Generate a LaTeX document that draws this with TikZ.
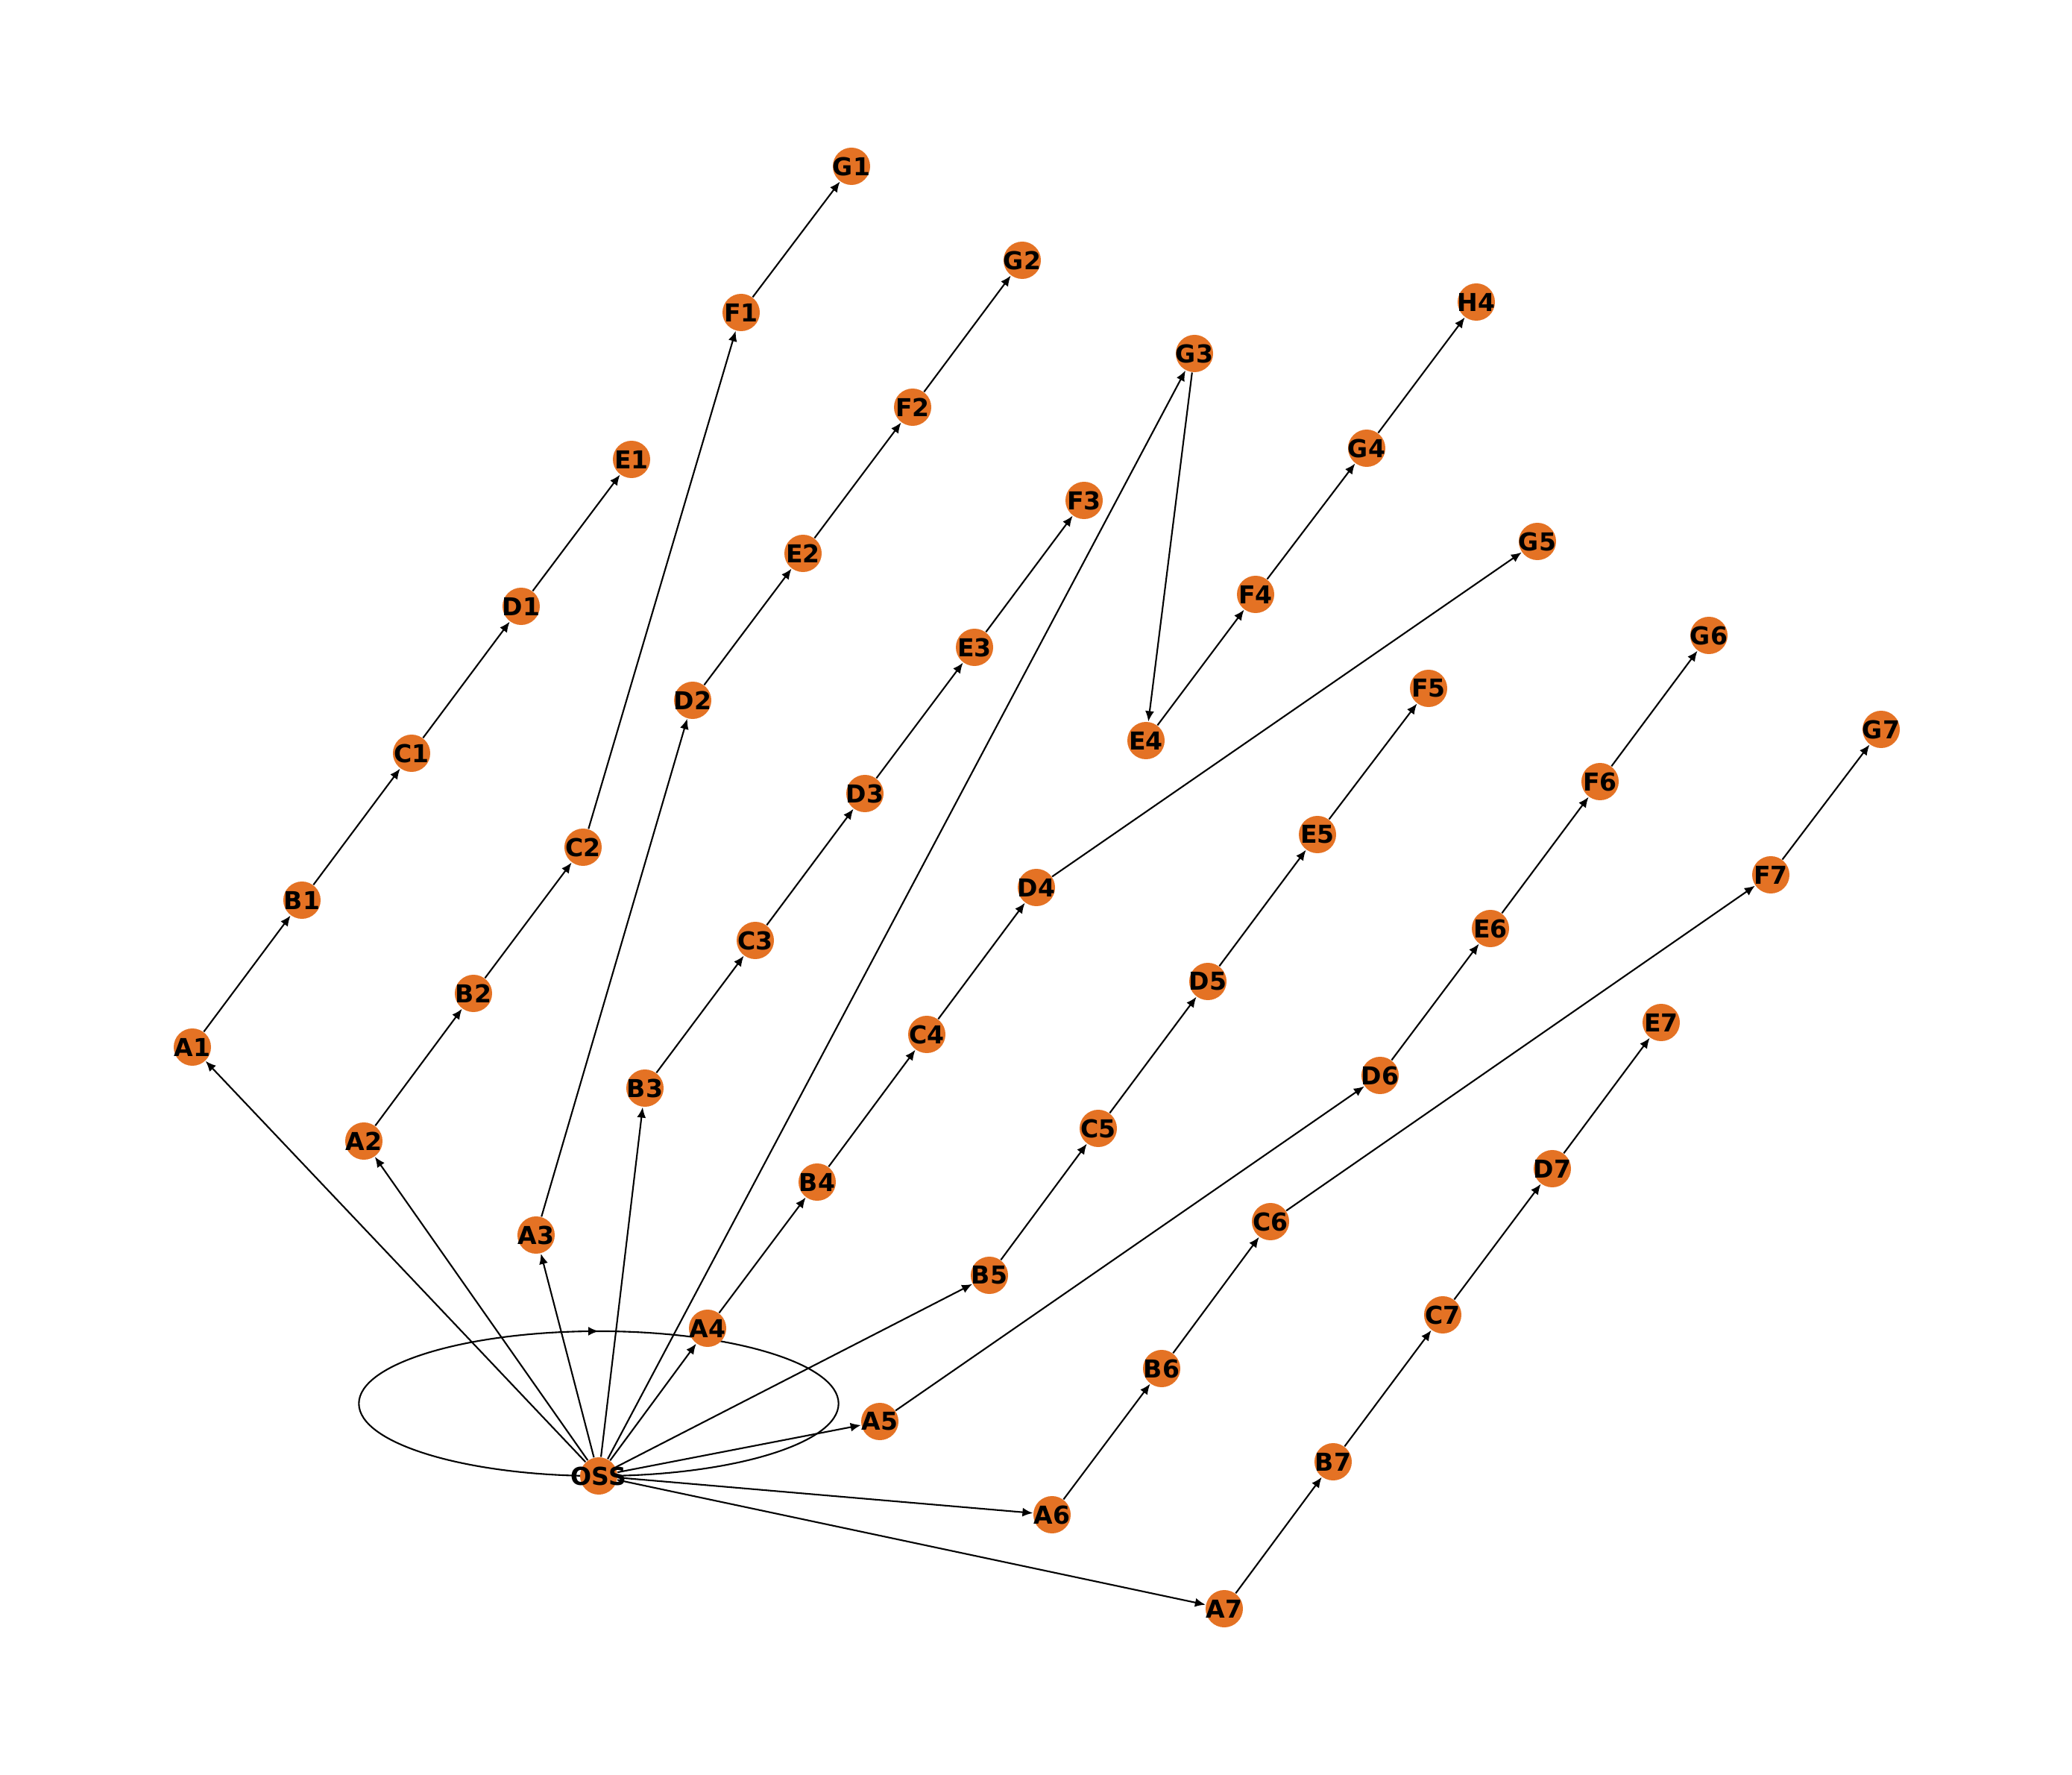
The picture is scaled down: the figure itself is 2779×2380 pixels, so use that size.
\documentclass[tikz,border=0pt]{standalone}
\usepackage{fontspec}
\setmainfont{DejaVu Sans}
\usetikzlibrary{arrows.meta,decorations.markings,backgrounds}
\definecolor{nodeorange}{RGB}{228,114,36}
\tikzset{
  vtx/.style={circle,fill=nodeorange,draw=none,minimum size=0.5cm,inner sep=0pt},
  lab/.style={font=\fontsize{9.4}{11}\selectfont\bfseries,text=black,inner sep=0pt},
  edge/.style={line width=0.6pt,draw=black,-{Latex[length=0.14cm,width=0.12cm]}},
}
\newcommand{\vx}[3]{\node[vtx,label={[lab]center:#1}] (#1) at (#2,#3) {};}
\begin{document}
\begin{tikzpicture}[x=0.01cm,y=-0.01cm]
\useasboundingbox (0,0) rectangle (2779,2380);
\vx{OSS}{803}{1979}
\vx{A1}{258}{1404}\vx{B1}{405}{1207}\vx{C1}{552}{1010}\vx{D1}{699}{813}\vx{E1}{847}{616}
\vx{A2}{488}{1530}\vx{B2}{635}{1332}\vx{C2}{782}{1136}\vx{F1}{994}{419}\vx{G1}{1142}{223}
\vx{A3}{719}{1656}\vx{D2}{929}{939}\vx{E2}{1077}{742}\vx{F2}{1224}{546}\vx{G2}{1371}{349}
\vx{B3}{865}{1459}\vx{C3}{1013}{1261}\vx{D3}{1160}{1064}\vx{E3}{1307}{868}\vx{F3}{1454}{671}
\vx{A4}{949}{1781}\vx{B4}{1096}{1585}\vx{C4}{1243}{1387}\vx{D4}{1390}{1190}\vx{G5}{2062}{726}
\vx{G3}{1602}{474}\vx{E4}{1537}{993}\vx{F4}{1684}{797}\vx{G4}{1833}{601}\vx{H4}{1980}{405}
\vx{B5}{1327}{1710}\vx{C5}{1473}{1513}\vx{D5}{1620}{1316}\vx{E5}{1767}{1119}\vx{F5}{1916}{923}
\vx{A5}{1180}{1906}\vx{D6}{1851}{1442}\vx{E6}{1999}{1245}\vx{F6}{2146}{1048}\vx{G6}{2292}{852}
\vx{A6}{1411}{2031}\vx{B6}{1558}{1835}\vx{C6}{1704}{1638}\vx{F7}{2375}{1173}\vx{G7}{2523}{978}
\vx{A7}{1642}{2157}\vx{B7}{1788}{1960}\vx{C7}{1935}{1763}\vx{D7}{2082}{1567}\vx{E7}{2228}{1371}
\coordinate (loopc) at (803,1882);
\begin{scope}[on background layer]
  \draw[line width=0.6pt,postaction={decorate},
    decoration={markings,mark=at position 0.25 with {\arrowreversed{Latex[length=0.14cm,width=0.12cm]}}}]
    (loopc) ellipse [x radius=3.215cm,y radius=0.97cm];
  \foreach \a/\b in {OSS/A1,A1/B1,B1/C1,C1/D1,D1/E1,
    OSS/A2,A2/B2,B2/C2,C2/F1,F1/G1,
    OSS/A3,A3/D2,D2/E2,E2/F2,F2/G2,
    OSS/B3,B3/C3,C3/D3,D3/E3,E3/F3,
    OSS/A4,A4/B4,B4/C4,C4/D4,D4/G5,
    OSS/G3,G3/E4,E4/F4,F4/G4,G4/H4,
    OSS/B5,B5/C5,C5/D5,D5/E5,E5/F5,
    OSS/A5,A5/D6,D6/E6,E6/F6,F6/G6,
    OSS/A6,A6/B6,B6/C6,C6/F7,F7/G7,
    OSS/A7,A7/B7,B7/C7,C7/D7,D7/E7}
    \draw[edge] (\a) -- (\b);
\end{scope}
\end{tikzpicture}
\end{document}
